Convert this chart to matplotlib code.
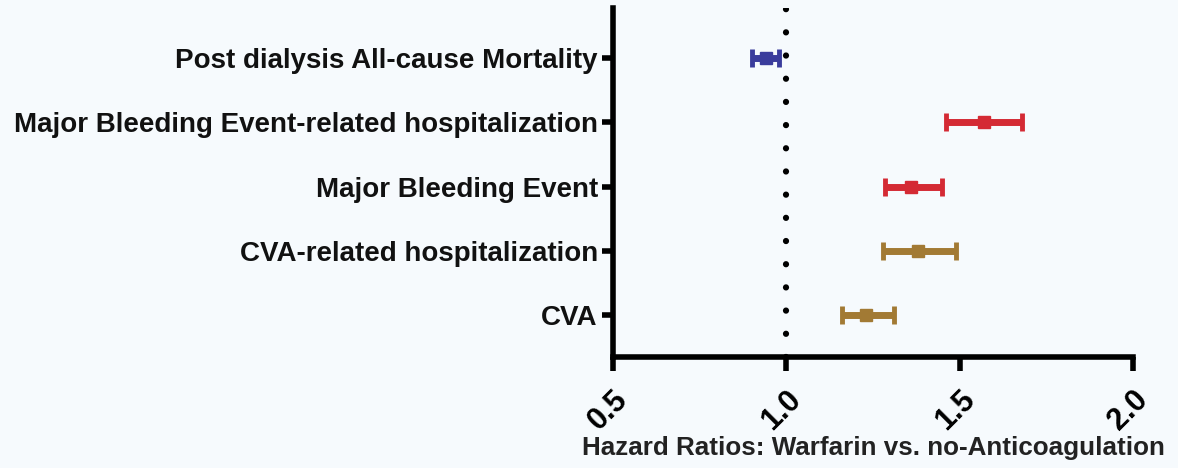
import numpy as np
import matplotlib.pyplot as plt
import matplotlib.transforms as mtransforms

plt.rcParams['font.family'] = ['Liberation Sans', 'DejaVu Sans']

# Forest plot data
outcomes = [
    "Post dialysis All-cause Mortality",
    "Major Bleeding Event-related hospitalization",
    "Major Bleeding Event",
    "CVA-related hospitalization",
    "CVA",
]
hr = [0.94, 1.57, 1.36, 1.38, 1.23]
ci_low = [0.90, 1.46, 1.285, 1.28, 1.16]
ci_high = [0.98, 1.68, 1.45, 1.49, 1.31]
colors = ["#3a3c9c", "#d42a34", "#d42a34", "#a27a34", "#a27a34"]
xticks = [0.5, 1.0, 1.5, 2.0]

bg = "#f6fafd"
fig = plt.figure(figsize=(11.78, 4.68), dpi=100, facecolor=bg)
ax = fig.add_axes([0.5204, 0.2372, 0.4414, 0.7458], facecolor=bg)

ypos = np.arange(len(outcomes))[::-1] + 1

# reference line at HR = 1
ax.axvline(1.0, color="black", lw=4.5, linestyle=(0, (0.01, 3.7)),
           dash_capstyle="round", zorder=1)

for y, m, lo, hi, c in zip(ypos, hr, ci_low, ci_high, colors):
    ax.errorbar(m, y, xerr=[[m - lo], [hi - m]], fmt="s", color=c,
                ms=9, mec=c, elinewidth=5, capsize=6.5, capthick=3.5, zorder=3)

ax.set_xlim(0.5, 2.0)
ax.set_ylim(0.35, 5.78)
ax.set_xticks(xticks)
ax.set_xticklabels([f"{t:.1f}" for t in xticks], rotation=45,
                   ha="right", va="top", rotation_mode="anchor",
                   fontsize=22, fontweight="bold")
shift = mtransforms.ScaledTranslation(8 / 100, 0, fig.dpi_scale_trans)
for lab in ax.get_xticklabels():
    lab.set_transform(lab.get_transform() + shift)
ax.set_yticks(ypos)
ax.set_yticklabels(outcomes, fontsize=20, fontweight="bold", color="#111111")

for side in ["top", "right"]:
    ax.spines[side].set_visible(False)
for side in ["left", "bottom"]:
    ax.spines[side].set_linewidth(4)
ax.tick_params(axis="y", length=8, width=4, pad=3)
ax.tick_params(axis="x", length=10, width=4, pad=10)

ax.set_xlabel("Hazard Ratios: Warfarin vs. no-Anticoagulation",
              fontsize=18.7, fontweight="bold", color="#222222", labelpad=0)

fig.savefig("out.png", dpi=100, facecolor=bg)
